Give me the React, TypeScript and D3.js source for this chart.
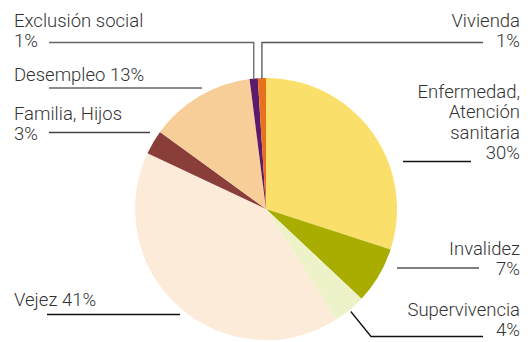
import React from 'react';
import * as d3 from 'd3';

const categories = ['Enfermedad, Atención sanitaria', 'Invalidez', 'Supervivencia', 'Vejez', 'Familia, Hijos', 'Desempleo', 'Exclusión social', 'Vivienda'];
const shares = [30, 7, 4, 41, 3, 13, 1, 1];
const colors = ['#fadf6b', '#a8ad00', '#eef2c8', '#fdebd9', '#8a3e39', '#f7cd98', '#5b1a6b', '#e8711d'];

const W = 530;
const H = 342;
const cx = 266;
const cy = 209;
const R = 131;

// label layout: text lines, anchor, x, first baseline, leader
type Lab = {
  lines: string[];
  anchor: 'start' | 'end';
  x: number;
  y: number;
  lead: 'up' | 'h' | 'diag';
  ly: number;
  lx: [number, number];
  col: string;
};

const layout: Lab[] = [
  { lines: ['Enfermedad,', 'Atención', 'sanitaria', '30%'], anchor: 'end', x: 520, y: 98, lead: 'h', ly: 161.5, lx: [403, 471], col: '#111' },
  { lines: ['Invalidez', '7%'], anchor: 'end', x: 520, y: 255, lead: 'h', ly: 268, lx: [397, 479], col: '#555' },
  { lines: ['Supervivencia', '4%'], anchor: 'end', x: 520, y: 316, lead: 'diag', ly: 336.5, lx: [371, 483], col: '#111' },
  { lines: ['Vejez 41%'], anchor: 'start', x: 14, y: 306, lead: 'h', ly: 314.5, lx: [47, 180], col: '#111' },
  { lines: ['Familia, Hijos', '3%'], anchor: 'start', x: 14, y: 120, lead: 'h', ly: 132.5, lx: [49, 150], col: '#444' },
  { lines: ['Desempleo 13%'], anchor: 'start', x: 14, y: 81, lead: 'h', ly: 88, lx: [49, 202], col: '#666' },
  { lines: ['Exclusión social', '1%'], anchor: 'start', x: 14, y: 27, lead: 'up', ly: 42.5, lx: [49, 0], col: '#666' },
  { lines: ['Vivienda', '1%'], anchor: 'end', x: 520, y: 27, lead: 'up', ly: 42.5, lx: [0, 483], col: '#555' },
];

export default function App() {
  const pie = d3.pie<number>().sort(null).value((d) => d);
  const arcs = pie(shares);
  const arc = d3.arc<d3.PieArcDatum<number>>().innerRadius(0).outerRadius(R);
  const at = (a: number, r: number): [number, number] => [cx + r * Math.sin(a), cy - r * Math.cos(a)];

  return (
    <svg width={W} height={H} style={{ position: 'absolute', left: 0, top: 0, background: '#fff' }}>
      <g transform={`translate(${cx},${cy})`}>
        {arcs.map((a, i) => (
          <path key={categories[i]} d={arc(a) || ''} fill={colors[i]} />
        ))}
      </g>
      {layout.map((l, i) => {
        const a = arcs[i];
        const mid = (a.startAngle + a.endAngle) / 2;
        let pts: [number, number][] = [];
        if (l.lead === 'up') {
          const p = at(mid, R - 1);
          const far = l.anchor === 'start' ? l.lx[0] : l.lx[1];
          pts = [[far, l.ly], [p[0], l.ly], p];
        } else if (l.lead === 'diag') {
          const p = at(mid, R + 2);
          pts = [p, [l.lx[0], l.ly], [l.lx[1], l.ly]];
        } else {
          pts = [[l.lx[0], l.ly], [l.lx[1], l.ly]];
        }
        return (
          <g key={categories[i]}>
            <path d={d3.line()(pts) || ''} fill="none" stroke={l.col} strokeWidth={1.3} />
            <text
              x={l.x}
              y={l.y}
              textAnchor={l.anchor}
              fontFamily="Roboto, sans-serif"
              fontWeight={300}
              fontSize={18.5}
              fill="#333"
            >
              {l.lines.map((t, j) => (
                <tspan key={j} x={l.x} y={l.y + j * 20.3}>
                  {t}
                </tspan>
              ))}
            </text>
          </g>
        );
      })}
    </svg>
  );
}
